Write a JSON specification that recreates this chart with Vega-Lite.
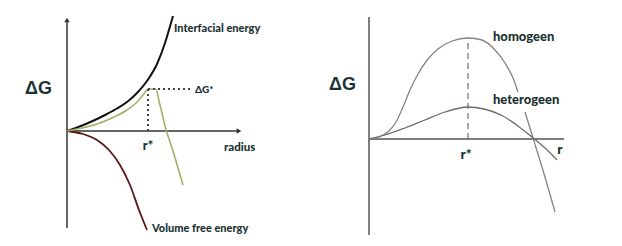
{
  "$schema": "https://vega.github.io/schema/vega-lite/v6.json",
  "background": "white",
  "padding": 0,
  "spacing": 0,
  "bounds": "flush",
  "resolve": {"scale": {"color": "independent", "strokeWidth": "independent", "shape": "independent"}},
  "config": {"view": {"stroke": null}, "text": {"font": "Lato", "fontWeight": 900, "color": "#1c3232", "fontSize": 11, "baseline": "middle"}},
  "hconcat": [
    {
      "width": 311,
      "height": 246,
      "layer": [
        {
          "data": {"values": [{"x": 0, "y": -97, "x2": 0, "y2": 111}, {"x": 0, "y": 0, "x2": 171, "y2": 0}]},
          "mark": {"type": "rule", "color": "#333333", "strokeWidth": 1.5},
          "encoding": {
            "x": {"field": "x", "type": "quantitative", "scale": {"domain": [-67, 244], "nice": false, "zero": false}, "axis": null},
            "y": {"field": "y", "type": "quantitative", "scale": {"domain": [-115, 131], "nice": false, "zero": false}, "axis": null},
            "x2": {"field": "x2"},
            "y2": {"field": "y2"}
          }
        },
        {
          "data": {"values": [{"x": 0, "y": 111, "dir": "up"}, {"x": 172, "y": 0, "dir": "right"}]},
          "mark": {"type": "point", "filled": true, "color": "#333333", "size": 30, "opacity": 1},
          "encoding": {
            "x": {"field": "x", "type": "quantitative"},
            "y": {"field": "y", "type": "quantitative"},
            "shape": {"field": "dir", "type": "nominal", "scale": {"domain": ["up", "right"], "range": ["triangle-up", "triangle-right"]}, "legend": null}
          }
        },
        {
          "data": {"values": [
            {"s": "Interfacial energy", "x": 0, "y": 0},
            {"s": "Interfacial energy", "x": 10, "y": 3.5},
            {"s": "Interfacial energy", "x": 20, "y": 7.5},
            {"s": "Interfacial energy", "x": 30, "y": 12},
            {"s": "Interfacial energy", "x": 40, "y": 17},
            {"s": "Interfacial energy", "x": 50, "y": 22.5},
            {"s": "Interfacial energy", "x": 60, "y": 29},
            {"s": "Interfacial energy", "x": 70, "y": 38},
            {"s": "Interfacial energy", "x": 80, "y": 50},
            {"s": "Interfacial energy", "x": 90, "y": 67},
            {"s": "Interfacial energy", "x": 98, "y": 88},
            {"s": "Interfacial energy", "x": 104, "y": 108},
            {"s": "Interfacial energy", "x": 106, "y": 115},
            {"s": "Volume free energy", "x": 0, "y": 0},
            {"s": "Volume free energy", "x": 16, "y": -3},
            {"s": "Volume free energy", "x": 30, "y": -9},
            {"s": "Volume free energy", "x": 42, "y": -19},
            {"s": "Volume free energy", "x": 53, "y": -34},
            {"s": "Volume free energy", "x": 63, "y": -54},
            {"s": "Volume free energy", "x": 72, "y": -79},
            {"s": "Volume free energy", "x": 80, "y": -99},
            {"s": "Total", "x": 0, "y": 0},
            {"s": "Total", "x": 15, "y": 3},
            {"s": "Total", "x": 30, "y": 7},
            {"s": "Total", "x": 45, "y": 13},
            {"s": "Total", "x": 60, "y": 21},
            {"s": "Total", "x": 70, "y": 29},
            {"s": "Total", "x": 76, "y": 36},
            {"s": "Total", "x": 80, "y": 41},
            {"s": "Total", "x": 83, "y": 42},
            {"s": "Total", "x": 89, "y": 42},
            {"s": "Total", "x": 92, "y": 30},
            {"s": "Total", "x": 95, "y": 18},
            {"s": "Total", "x": 98, "y": 5},
            {"s": "Total", "x": 102, "y": -8},
            {"s": "Total", "x": 106, "y": -20},
            {"s": "Total", "x": 111, "y": -37},
            {"s": "Total", "x": 116, "y": -54}
          ]},
          "mark": {"type": "line", "interpolate": "monotone"},
          "encoding": {
            "x": {"field": "x", "type": "quantitative"},
            "y": {"field": "y", "type": "quantitative"},
            "color": {"field": "s", "type": "nominal", "scale": {"domain": ["Interfacial energy", "Volume free energy", "Total"], "range": ["#111111", "#5a1818", "#a9ad6a"]}, "legend": null},
            "strokeWidth": {"field": "s", "type": "nominal", "scale": {"domain": ["Interfacial energy", "Volume free energy", "Total"], "range": [2, 1.6, 1.6]}, "legend": null}
          }
        },
        {
          "data": {"values": [{"x": 81, "y": 0, "x2": 81, "y2": 42}, {"x": 81, "y": 42, "x2": 124, "y2": 42}]},
          "mark": {"type": "rule", "color": "#444444", "strokeWidth": 2, "strokeDash": [2, 3]},
          "encoding": {
            "x": {"field": "x", "type": "quantitative"},
            "y": {"field": "y", "type": "quantitative"},
            "x2": {"field": "x2"},
            "y2": {"field": "y2"}
          }
        },
        {
          "data": {"values": [
            {"t": "Interfacial energy", "x": 107, "y": 102},
            {"t": "Volume free energy", "x": 85, "y": -98}
          ]},
          "mark": {"type": "text", "align": "left"},
          "encoding": {"x": {"field": "x", "type": "quantitative"}, "y": {"field": "y", "type": "quantitative"}, "text": {"field": "t"}}
        },
        {
          "data": {"values": [{"t": "radius", "x": 157, "y": -17}]},
          "mark": {"type": "text", "align": "left", "fontSize": 11.5},
          "encoding": {"x": {"field": "x", "type": "quantitative"}, "y": {"field": "y", "type": "quantitative"}, "text": {"field": "t"}}
        },
        {
          "data": {"values": [{"t": "ΔG*", "x": 128, "y": 41}]},
          "mark": {"type": "text", "align": "left", "fontSize": 10},
          "encoding": {"x": {"field": "x", "type": "quantitative"}, "y": {"field": "y", "type": "quantitative"}, "text": {"field": "t"}}
        },
        {
          "data": {"values": [{"t": "r*", "x": 81, "y": -15}]},
          "mark": {"type": "text", "align": "center", "fontSize": 13},
          "encoding": {"x": {"field": "x", "type": "quantitative"}, "y": {"field": "y", "type": "quantitative"}, "text": {"field": "t"}}
        },
        {
          "data": {"values": [{"t": "ΔG", "x": -42, "y": 42}]},
          "mark": {"type": "text", "align": "left", "fontSize": 18, "font": "Liberation Sans", "fontWeight": "bold"},
          "encoding": {"x": {"field": "x", "type": "quantitative"}, "y": {"field": "y", "type": "quantitative"}, "text": {"field": "t"}}
        }
      ]
    },
    {
      "width": 311,
      "height": 246,
      "layer": [
        {
          "data": {"values": [{"x": 0, "y": -96, "x2": 0, "y2": 122}, {"x": 0, "y": 0, "x2": 195, "y2": 0}]},
          "mark": {"type": "rule", "color": "#555555", "strokeWidth": 1.5},
          "encoding": {
            "x": {"field": "x", "type": "quantitative", "scale": {"domain": [-58, 253], "nice": false, "zero": false}, "axis": null},
            "y": {"field": "y", "type": "quantitative", "scale": {"domain": [-107, 139], "nice": false, "zero": false}, "axis": null},
            "x2": {"field": "x2"},
            "y2": {"field": "y2"}
          }
        },
        {
          "data": {"values": [{"x": 99, "y": 0, "x2": 99, "y2": 101}]},
          "mark": {"type": "rule", "color": "#555555", "strokeWidth": 1, "strokeDash": [6, 4]},
          "encoding": {
            "x": {"field": "x", "type": "quantitative"},
            "y": {"field": "y", "type": "quantitative"},
            "x2": {"field": "x2"},
            "y2": {"field": "y2"}
          }
        },
        {
          "data": {"values": [
            {"s": "homogeen", "part": "a", "x": 0, "y": 0},
            {"s": "homogeen", "part": "a", "x": 10, "y": 2},
            {"s": "homogeen", "part": "a", "x": 20, "y": 8},
            {"s": "homogeen", "part": "a", "x": 27, "y": 17},
            {"s": "homogeen", "part": "a", "x": 34, "y": 32},
            {"s": "homogeen", "part": "a", "x": 41, "y": 49},
            {"s": "homogeen", "part": "a", "x": 49, "y": 65},
            {"s": "homogeen", "part": "a", "x": 59, "y": 80},
            {"s": "homogeen", "part": "a", "x": 69, "y": 90},
            {"s": "homogeen", "part": "a", "x": 83, "y": 98},
            {"s": "homogeen", "part": "a", "x": 99, "y": 101},
            {"s": "homogeen", "part": "a", "x": 113, "y": 99},
            {"s": "homogeen", "part": "a", "x": 126, "y": 89},
            {"s": "homogeen", "part": "a", "x": 136, "y": 76},
            {"s": "homogeen", "part": "a", "x": 144, "y": 61},
            {"s": "homogeen", "part": "a", "x": 149, "y": 47},
            {"s": "homogeen", "part": "b", "x": 156, "y": 27},
            {"s": "homogeen", "part": "b", "x": 164, "y": 1},
            {"s": "homogeen", "part": "b", "x": 173, "y": -28},
            {"s": "homogeen", "part": "b", "x": 186, "y": -73},
            {"s": "heterogeen", "part": "a", "x": 0, "y": 0},
            {"s": "heterogeen", "part": "a", "x": 16, "y": 4},
            {"s": "heterogeen", "part": "a", "x": 36, "y": 11},
            {"s": "heterogeen", "part": "a", "x": 56, "y": 19},
            {"s": "heterogeen", "part": "a", "x": 76, "y": 27},
            {"s": "heterogeen", "part": "a", "x": 99, "y": 32},
            {"s": "heterogeen", "part": "a", "x": 115, "y": 30},
            {"s": "heterogeen", "part": "a", "x": 132, "y": 24},
            {"s": "heterogeen", "part": "a", "x": 149, "y": 13},
            {"s": "heterogeen", "part": "a", "x": 164, "y": 1},
            {"s": "heterogeen", "part": "a", "x": 176, "y": -9},
            {"s": "heterogeen", "part": "a", "x": 188, "y": -21}
          ]},
          "mark": {"type": "line", "interpolate": "monotone", "strokeWidth": 1.3},
          "encoding": {
            "x": {"field": "x", "type": "quantitative"},
            "y": {"field": "y", "type": "quantitative"},
            "detail": {"field": "part"},
            "color": {"field": "s", "type": "nominal", "scale": {"domain": ["homogeen", "heterogeen"], "range": ["#8a8282", "#746b6b"]}, "legend": null}
          }
        },
        {
          "data": {"values": [
            {"t": "homogeen", "x": 124, "y": 102},
            {"t": "heterogeen", "x": 124, "y": 39}
          ]},
          "mark": {"type": "text", "align": "left", "fontSize": 13},
          "encoding": {"x": {"field": "x", "type": "quantitative"}, "y": {"field": "y", "type": "quantitative"}, "text": {"field": "t"}}
        },
        {
          "data": {"values": [{"t": "r*", "x": 97, "y": -16}, {"t": "r", "x": 191, "y": -11}]},
          "mark": {"type": "text", "align": "center", "fontSize": 14},
          "encoding": {"x": {"field": "x", "type": "quantitative"}, "y": {"field": "y", "type": "quantitative"}, "text": {"field": "t"}}
        },
        {
          "data": {"values": [{"t": "ΔG", "x": -40, "y": 54}]},
          "mark": {"type": "text", "align": "left", "fontSize": 18, "font": "Liberation Sans", "fontWeight": "bold"},
          "encoding": {"x": {"field": "x", "type": "quantitative"}, "y": {"field": "y", "type": "quantitative"}, "text": {"field": "t"}}
        }
      ]
    }
  ]
}
